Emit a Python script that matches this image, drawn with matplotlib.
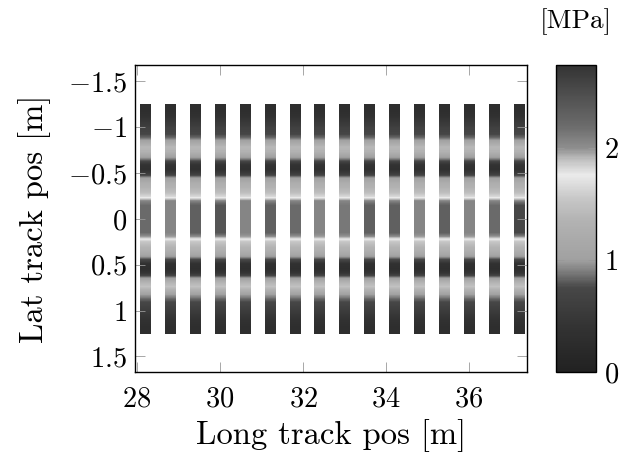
import numpy as np
import matplotlib
matplotlib.use("Agg")
import matplotlib.pyplot as plt
from matplotlib.colors import LinearSegmentedColormap, Normalize
from matplotlib.cm import ScalarMappable
from matplotlib.ticker import FuncFormatter

plt.rcParams['font.family'] = 'serif'
plt.rcParams['font.serif'] = ['cmr10', 'DejaVu Serif']
plt.rcParams['mathtext.fontset'] = 'cm'
plt.rcParams['axes.unicode_minus'] = True

# ---- data ----
sleeper_x = [28.2, 28.8, 29.4, 30.0, 30.6, 31.2, 31.8, 32.4,
             33.0, 33.6, 34.2, 34.8, 35.4, 36.0, 36.6, 37.2]
lat_pos = [-1.25, -1.20, -1.15, -1.10, -1.05, -1.00, -0.95, -0.90, -0.85, -0.80,
           -0.75, -0.70, -0.65, -0.60, -0.55, -0.50, -0.45, -0.40, -0.35, -0.30,
           -0.25, -0.20, -0.15, -0.10, -0.05, 0.00, 0.05, 0.10, 0.15, 0.20,
           0.25, 0.30, 0.35, 0.40, 0.45, 0.50, 0.55, 0.60, 0.65, 0.70,
           0.75, 0.80, 0.85, 0.90, 0.95, 1.00, 1.05, 1.10, 1.15, 1.20, 1.25]
stress_profile = [0.30, 0.30, 0.35, 0.45, 0.55, 0.65, 0.72, 0.85, 1.15, 1.40,
                  1.35, 1.10, 0.80, 0.40, 0.35, 0.60, 1.05, 1.25, 1.35, 1.45,
                  1.65, 2.05, 2.15, 2.20, 2.20, 2.20, 2.20, 2.20, 2.15, 1.95,
                  1.55, 1.40, 1.30, 1.10, 0.75, 0.35, 0.30, 0.45, 0.95, 1.35,
                  1.50, 1.25, 0.95, 0.80, 0.70, 0.60, 0.50, 0.42, 0.35, 0.30, 0.30]
center_stress = [2.20, 2.05, 2.30, 2.40, 2.05, 2.30, 2.20, 2.05,
                 2.12, 2.30, 2.30, 2.05, 2.30, 2.05, 2.20, 2.55]
sleeper_width = 0.25

cb_ticks = [0, 1, 2]
x_ticks = [28, 30, 32, 34, 36]
y_ticks = [-1.5, -1, -0.5, 0, 0.5, 1, 1.5]
vmin, vmax = 0.0, 2.74

# colormap (value, gray level)
cmap_vals = [0.0, 0.4, 0.75, 0.9, 1.0, 1.35, 1.55, 1.76, 1.9, 2.0, 2.2, 2.5, 2.74]
cmap_gray = [0.13, 0.20, 0.28, 0.50, 0.63, 0.70, 0.78, 0.92, 0.75, 0.56, 0.42, 0.30, 0.20]
cmap = LinearSegmentedColormap.from_list(
    'gray_custom',
    [(v / vmax, (g, g, g)) for v, g in zip(cmap_vals, cmap_gray)])
norm = Normalize(vmin=vmin, vmax=vmax)

# ---- figure ----
fig = plt.figure(figsize=(6.21, 4.54), dpi=100)
ax = fig.add_axes([135 / 621, 1 - 372 / 454, (527 - 135) / 621, (372 - 65) / 454])
cax = fig.add_axes([556 / 621, 1 - 372 / 454, 40 / 621, (372 - 65) / 454])

lat = np.array(lat_pos)
prof = np.array(stress_profile)
for xc, cval in zip(sleeper_x, center_stress):
    col = np.where(np.abs(lat) <= 0.151, cval, prof)
    ax.imshow(col[:, None], cmap=cmap, norm=norm, origin='lower',
              extent=(xc - sleeper_width / 2, xc + sleeper_width / 2,
                      lat_pos[0], lat_pos[-1]),
              aspect='auto', interpolation='bilinear',
              interpolation_stage='data')

ax.set_xlim(27.95, 37.4)
ax.set_ylim(1.67, -1.68)
ax.set_xticks(x_ticks)
ax.set_yticks(y_ticks)
fmt = FuncFormatter(lambda v, p: '$%g$' % v)
ax.xaxis.set_major_formatter(fmt)
ax.yaxis.set_major_formatter(fmt)
ax.tick_params(direction='in', length=7, width=0.6, color='#999999',
               top=True, right=True, labelsize=20.5)
ax.tick_params(axis='x', pad=10)
ax.tick_params(axis='y', pad=6)
for s in ax.spines.values():
    s.set_linewidth(1.0)
ax.set_xlabel('Long track pos [m]', fontsize=23.5, labelpad=5)
ax.set_ylabel('Lat track pos [m]', fontsize=23.5, labelpad=12)

sm = ScalarMappable(norm=norm, cmap=cmap)
cb = fig.colorbar(sm, cax=cax)
cb.set_ticks(cb_ticks)
cax.yaxis.set_major_formatter(fmt)
cax.tick_params(direction='in', length=6, width=0.6, color='#999999',
                left=True, right=True, labelsize=20.5, pad=6)
cb.outline.set_linewidth(1.0)
cax.text(0.5, 1.14, '[MPa]', transform=cax.transAxes, ha='center', va='center',
         fontsize=19.5)

fig.savefig('out.png', dpi=100)
